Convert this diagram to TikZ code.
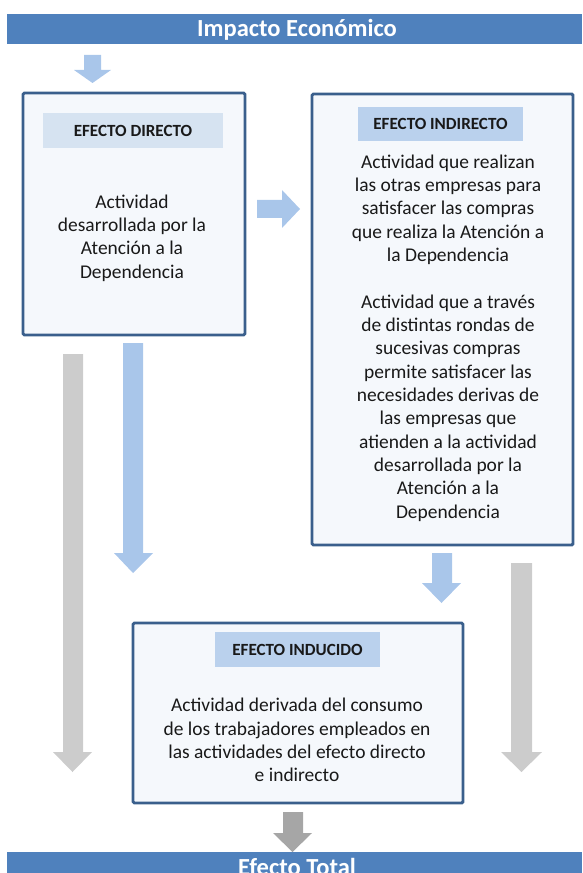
\documentclass[tikz,border=0pt]{standalone}
\usepackage{fontspec}
\setmainfont{Carlito}
\definecolor{barblue}{RGB}{79,129,189}
\definecolor{boxline}{RGB}{58,95,140}
\definecolor{boxfill}{RGB}{245,248,252}
\definecolor{headlight}{RGB}{214,227,241}
\definecolor{headblue}{RGB}{186,209,237}
\definecolor{arrowblue}{RGB}{169,198,234}
\definecolor{arrowgray}{RGB}{204,204,204}
\definecolor{arrowdark}{RGB}{166,166,166}
\begin{document}
\begin{tikzpicture}[x=0.75pt,y=0.75pt,yscale=-1,xscale=1,
	caja/.style={draw=boxline,fill=boxfill,line width=2.2pt,rounded corners=1pt},
	titulo/.style={text=white,font=\bfseries\fontsize{18.4}{22}\selectfont,anchor=base,inner sep=0pt},
	cabecera/.style={font=\bfseries\fontsize{12.8}{15}\selectfont,text=black!90,inner sep=0pt},
	cuerpo/.style={align=center,inner sep=0pt,font=\fontsize{14.6}{17.5}\selectfont,text=black!90}]
	\useasboundingbox (0,0) rectangle (582,873);

	%Shape: Rectangle [title bars]
	\fill [barblue] (7,14) rectangle (582,44);
	\fill [barblue] (7,852) rectangle (582,890);

	%Shape: Down Arrow [top]
	\fill [arrowblue] (84,55) -- (101,55) -- (101,70) -- (111,70) -- (92.5,83) -- (74,70) -- (84,70) -- cycle;
	%Shape: Right Arrow
	\fill [arrowblue] (257,200) -- (282,200) -- (282,190) -- (300,209) -- (282,228) -- (282,218) -- (257,218) -- cycle;
	%Shape: Down Arrow [direct to induced]
	\fill [arrowblue] (123,343) -- (143,343) -- (143,553) -- (153,553) -- (133,573) -- (114,553) -- (123,553) -- cycle;
	%Shape: Down Arrow [indirect to induced]
	\fill [arrowblue] (432,553) -- (452,553) -- (452,583) -- (461,583) -- (441.5,603) -- (422,583) -- (432,583) -- cycle;
	%Shape: Down Arrow [left, gray]
	\fill [arrowgray] (63,354) -- (83,354) -- (83,752) -- (92,752) -- (72.5,772) -- (53,752) -- (63,752) -- cycle;
	%Shape: Down Arrow [right, gray]
	\fill [arrowgray] (511,563) -- (532,563) -- (532,752) -- (542,752) -- (521.5,772) -- (501,752) -- (511,752) -- cycle;
	%Shape: Down Arrow [to total]
	\fill [arrowdark] (283,812) -- (303,812) -- (303,833) -- (312,833) -- (292.5,852) -- (273,833) -- (283,833) -- cycle;

	%Shape: Rectangle [boxes]
	\draw [caja] (23,93) rectangle (245,335);
	\draw [caja] (312,94) rectangle (573,545);
	\draw [caja] (133,623) rectangle (463,803);
	%Shape: Rectangle [headers]
	\fill [headlight] (43,113) rectangle (223,148);
	\fill [headblue] (358,107) rectangle (523,141);
	\fill [headblue] (215,632) rectangle (380,667);

	% Text Node
	\node [titulo] (impacto) at (297,37) {Impacto Económico};
	% Text Node
	\node [titulo] (total) at (297,875) {Efecto Total};
	% Text Node
	\node [cabecera] (directo) at (133,130.5) {EFECTO DIRECTO};
	% Text Node
	\node [cabecera] (indirecto) at (440.5,124) {EFECTO INDIRECTO};
	% Text Node
	\node [cabecera] (inducido) at (297.5,649.5) {EFECTO INDUCIDO};
	% Text Node
	\node [cuerpo] (txtdirecto) at (132,238) {Actividad\\desarrollada por la\\Atención a la\\Dependencia};
	% Text Node
	\node [cuerpo] (txtindirecto) at (448,338) {Actividad que realizan\\las otras empresas para\\satisfacer las compras\\que realiza la Atención a\\la Dependencia\\[17.5pt]Actividad que a través\\de distintas rondas de\\sucesivas compras\\permite satisfacer las\\necesidades derivas de\\las empresas que\\atienden a la actividad\\desarrollada por la\\Atención a la\\Dependencia};
	% Text Node
	\node [cuerpo] (txtinducido) at (297,740) {Actividad derivada del consumo\\de los trabajadores empleados en\\las actividades del efecto directo\\e indirecto};
\end{tikzpicture}
\end{document}
